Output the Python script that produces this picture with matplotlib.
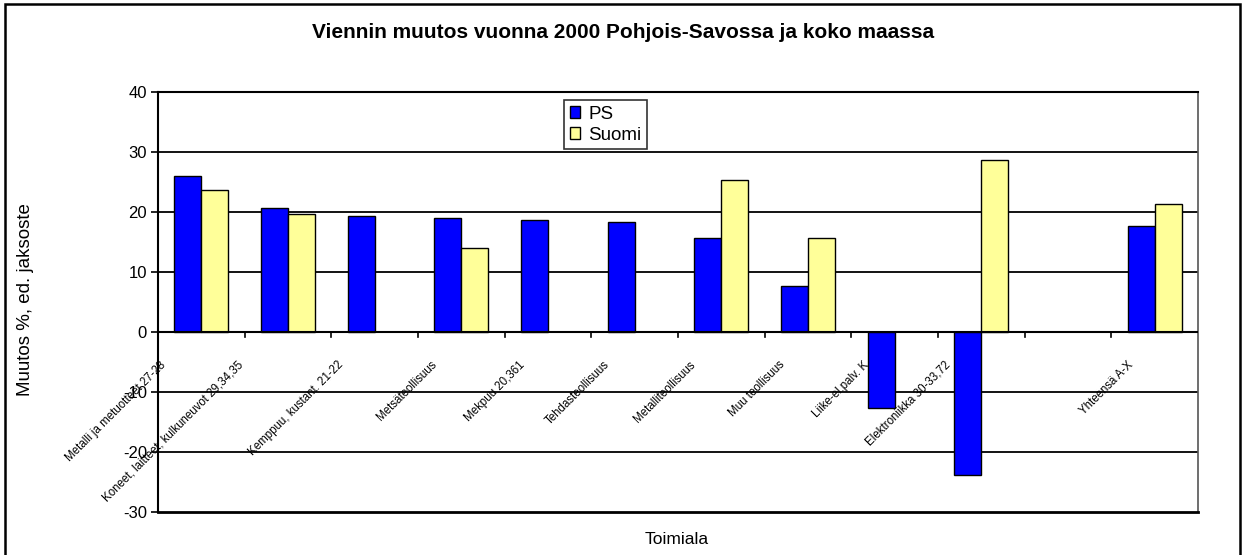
import numpy as np
import matplotlib.pyplot as plt
import matplotlib.transforms as mtransforms
from matplotlib.patches import Rectangle

# data
categories = ['Metalli ja metuotteet 27-28', 'Koneet, laitteet, kulkuneuvot 29,34,35',
              'Kemppuu, kustant. 21-22', 'Metsäteollisuus', 'Mekpuu 20,361',
              'Tehdasteollisuus', 'Metalliteollisuus', 'Muu teollisuus',
              'Liike-el.palv. K', 'Elektroniikka 30-33,72', '', 'Yhteensä A-X']
ps_values = [26.0, 20.7, 19.4, 19.0, 18.7, 18.3, 15.6, 7.7, -12.7, -23.8, np.nan, 17.7]
suomi_values = [23.7, 19.7, np.nan, 14.0, np.nan, np.nan, 25.3, 15.7, np.nan, 28.7, np.nan, 21.3]
y_ticks = [-30, -20, -10, 0, 10, 20, 30, 40]

W, H = 1245, 555
fig = plt.figure(figsize=(W / 100, H / 100), dpi=100)
plt.rcParams['font.family'] = ['Liberation Sans', 'DejaVu Sans']

# outer chart border
fig.patches.append(Rectangle((5 / W, -0.02), 1235 / W, 1 - 4 / H + 0.02,
                             transform=fig.transFigure, fill=False,
                             edgecolor='black', linewidth=1.8))

left, right, top, bottom = 158, 1198, 92, 512
ax = fig.add_axes([left / W, 1 - bottom / H, (right - left) / W, (bottom - top) / H])

x = np.arange(len(categories))
width = 0.31
ax.bar(x - width / 2, ps_values, width, color='#0000FF', edgecolor='black',
       linewidth=1.0, label='PS', zorder=3)
ax.bar(x + width / 2, suomi_values, width, color='#FFFF99', edgecolor='black',
       linewidth=1.0, label='Suomi', zorder=3)

ax.set_xlim(-0.5, len(categories) - 0.5)
ax.set_ylim(-30, 40)
ax.set_yticks(y_ticks)
ax.set_yticklabels([str(v) for v in y_ticks], fontsize=12)
ax.tick_params(axis='y', direction='out', length=5, width=1.2, pad=3)

for v in [-20, -10, 10, 20, 30]:
    ax.axhline(v, color='black', linewidth=1.3, zorder=1)
ax.axhline(0, color='black', linewidth=1.5, zorder=4)

# category boundary ticks on the zero line
for b in np.arange(0.5, len(categories) - 0.5, 1.0):
    ax.plot([b, b], [0, -0.9], color='black', linewidth=1.2, zorder=4, clip_on=False)

ax.set_xticks([])
ax.spines['left'].set_linewidth(1.5)
ax.spines['top'].set_linewidth(1.5)
ax.spines['bottom'].set_linewidth(2.0)
ax.spines['right'].set_color('#555555')
ax.spines['right'].set_linewidth(1.2)

# rotated category labels; longer labels sit further left of the category centre
for i, name in enumerate(categories):
    if not name:
        continue
    shift = -(17 + 0.9 * len(name))
    off = mtransforms.offset_copy(ax.transData, fig=fig, x=shift, y=0, units='dots')
    ax.text(i, -4.5, name, rotation=45, ha='right', va='top', rotation_mode='anchor',
            fontsize=8.3, transform=off, clip_on=False)

leg = ax.legend(loc='upper left', bbox_to_anchor=((564 - left) / (right - left), 1 - 8 / 420),
                fontsize=13.5, frameon=True, fancybox=False, edgecolor='black',
                handlelength=0.55, handleheight=0.55, handletextpad=0.45,
                borderpad=0.3, labelspacing=0.22, borderaxespad=0)
leg.get_frame().set_linewidth(1.2)
leg.set_zorder(5)

fig.text(623 / W, 1 - 33 / H, 'Viennin muutos vuonna 2000 Pohjois-Savossa ja koko maassa',
         ha='center', va='center', fontsize=15, fontweight='bold')
fig.text(26 / W, 1 - 300 / H, 'Muutos %, ed. jaksoste', rotation=90,
         ha='center', va='center', fontsize=13.5)
fig.text(677 / W, 1 - 540 / H, 'Toimiala', ha='center', va='center', fontsize=12.5)

fig.savefig('out.png', dpi=100)
